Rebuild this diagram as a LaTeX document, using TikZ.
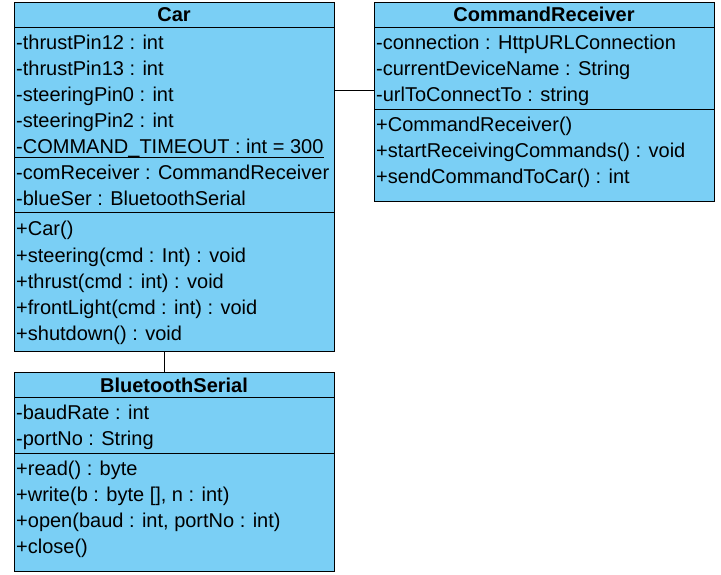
\documentclass[tikz,border=0pt]{standalone}
\usepackage{fontspec}
\setmainfont{Liberation Sans}
\definecolor{umlblue}{RGB}{122,207,245}
\begin{document}
\begin{tikzpicture}[x=1pt,y=-1pt,
  classbox/.style={draw=black, fill=umlblue, line width=1pt, rectangle,
    inner sep=0pt, anchor=north west},
  member/.style={anchor=base west, inner sep=0pt,
    font=\fontsize{20}{24}\selectfont},
  classname/.style={anchor=base, inner sep=0pt,
    font=\bfseries\fontsize{20}{24}\selectfont},
  rule/.style={draw=black, line width=1pt},
  link/.style={draw=black, line width=1pt}]
\useasboundingbox (0,0) rectangle (721,575);

% ---- Car ----
\node[classbox, minimum width=320pt, minimum height=349pt] (car) at (14,2) {};
\node[classname] (carT) at (174,22) {Car};
\draw[rule] (car.west |- 0,28) -- (car.east |- 0,28);
\node[member] (car1) at (16,50) {-thrustPin12 : int};
\node[member] (car2) at (16,76) {-thrustPin13 : int};
\node[member] (car3) at (16,102) {-steeringPin0 : int};
\node[member] (car4) at (16,128) {-steeringPin2 : int};
\node[member] (car5) at (16,154) {-COMMAND\_TIMEOUT : int = 300};
\draw[rule] (car.west |- 0,158) -- (car5.east |- 0,158);
\node[member] (car6) at (16,180) {-comReceiver : CommandReceiver};
\node[member] (car7) at (16,206) {-blueSer : BluetoothSerial};
\draw[rule] (car.west |- 0,213) -- (car.east |- 0,213);
\node[member] (carm1) at (16,236) {+Car()};
\node[member] (carm2) at (16,262) {+steering(cmd : Int) : void};
\node[member] (carm3) at (16,288) {+thrust(cmd : int) : void};
\node[member] (carm4) at (16,314) {+frontLight(cmd : int) : void};
\node[member] (carm5) at (16,340) {+shutdown() : void};

% ---- CommandReceiver ----
\node[classbox, minimum width=340pt, minimum height=199pt] (cr) at (374,2) {};
\node[classname] (crT) at (544,22) {CommandReceiver};
\draw[rule] (cr.west |- 0,28) -- (cr.east |- 0,28);
\node[member] (cr1) at (376,50) {-connection : HttpURLConnection};
\node[member] (cr2) at (376,76) {-currentDeviceName : String};
\node[member] (cr3) at (376,102) {-urlToConnectTo : string};
\draw[rule] (cr.west |- 0,110) -- (cr.east |- 0,110);
\node[member] (crm1) at (376,132) {+CommandReceiver()};
\node[member] (crm2) at (376,158) {+startReceivingCommands() : void};
\node[member] (crm3) at (376,184) {+sendCommandToCar() : int};

% ---- BluetoothSerial ----
\node[classbox, minimum width=320pt, minimum height=199pt] (bs) at (14,372) {};
\node[classname] (bsT) at (174,392) {BluetoothSerial};
\draw[rule] (bs.west |- 0,397) -- (bs.east |- 0,397);
\node[member] (bs1) at (16,419) {-baudRate : int};
\node[member] (bs2) at (16,445) {-portNo : String};
\draw[rule] (bs.west |- 0,453) -- (bs.east |- 0,453);
\node[member] (bsm1) at (16,475) {+read() : byte};
\node[member] (bsm2) at (16,501) {+write(b : byte [], n : int)};
\node[member] (bsm3) at (16,527) {+open(baud : int, portNo : int)};
\node[member] (bsm4) at (16,553) {+close()};

% ---- associations ----
\coordinate (carbs) at (164,0);
\coordinate (carcr) at (0,91);
\draw[link] (car.south -| carbs) -- (bs.north -| carbs);
\draw[link] (car.east |- carcr) -- (cr.west |- carcr);
\end{tikzpicture}
\end{document}
